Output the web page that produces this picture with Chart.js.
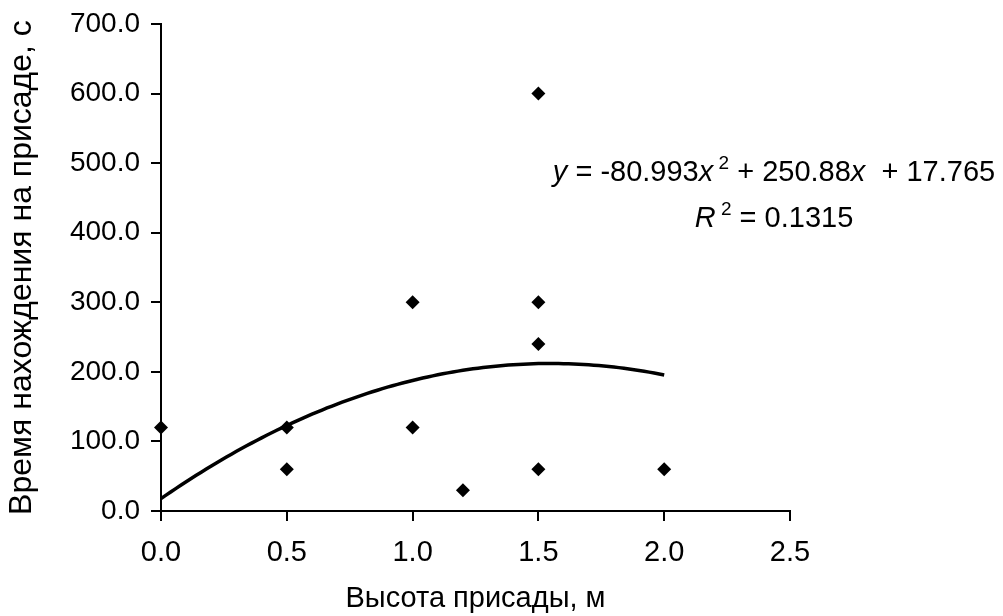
<!DOCTYPE html>
<html>
<head>
<meta charset="utf-8">
<title>Время нахождения на присаде</title>
<script src="https://cdn.jsdelivr.net/npm/chart.js@4.4.0/dist/chart.umd.min.js"></script>
<style>
    html, body { margin: 0; padding: 0; background: #fff; }
    #wrap { width: 1003px; height: 616px; }
</style>
</head>
<body>
<div id="wrap"><canvas id="myChart" width="1003" height="616"></canvas></div>
<script>
// наблюдения: высота присады (м) и время на присаде (с)
const heights = [0, 0.5, 0.5, 1.0, 1.0, 1.2, 1.5, 1.5, 1.5, 1.5, 2.0];
const times = [120, 120, 60, 300, 120, 30, 600, 300, 240, 60, 60];

// полиномиальный тренд 2-й степени: a*x^2 + b*x + c
const trendCoef = [-80.993, 250.88, 17.765];
const rSquared = 0.1315;
const trendRange = [0, 2.0];

const xTicks = [0, 0.5, 1.0, 1.5, 2.0, 2.5];
const yTicks = [0, 100, 200, 300, 400, 500, 600, 700];

const FONT = "'Liberation Sans', Arial, sans-serif";

function trendValue(x) {
    return trendCoef[0] * x * x + trendCoef[1] * x + trendCoef[2];
}

function generateChart() {
    const points = heights.map((h, i) => ({ x: h, y: times[i] }));

    const curve = [];
    for (let i = 0; i <= 100; i++) {
        const x = trendRange[0] + (trendRange[1] - trendRange[0]) * i / 100;
        curve.push({ x: x, y: trendValue(x) });
    }

    // подпись уравнения тренда и R^2
    const equationLabel = {
        id: 'equationLabel',
        afterDraw(chart) {
            const ctx = chart.ctx;
            const size = 29;
            const num = (v) => String(v);
            const lines = [
                { baseline: 181, parts: [
                    ['y', 'i'], [' = ' + num(trendCoef[0]), 'n'], ['x', 'i'], [' 2', 's'],
                    [' + ' + num(trendCoef[1]), 'n'], ['x', 'i'], ['  + ' + num(trendCoef[2]), 'n']
                ] },
                { baseline: 227, parts: [
                    ['R', 'i'], [' 2', 's'], [' = ' + num(rSquared), 'n']
                ] }
            ];
            const fontFor = (kind) => {
                if (kind === 'i') return 'italic ' + size + 'px ' + FONT;
                if (kind === 's') return Math.round(size * 0.66) + 'px ' + FONT;
                return size + 'px ' + FONT;
            };
            ctx.save();
            ctx.fillStyle = '#000';
            ctx.textBaseline = 'alphabetic';
            ctx.textAlign = 'left';
            lines.forEach(line => {
                let total = 0;
                line.parts.forEach(p => {
                    ctx.font = fontFor(p[1]);
                    total += ctx.measureText(p[0]).width;
                });
                let x = 774 - total / 2;
                line.parts.forEach(p => {
                    ctx.font = fontFor(p[1]);
                    const dy = p[1] === 's' ? -size * 0.42 : 0;
                    ctx.fillText(p[0], x, line.baseline + dy);
                    x += ctx.measureText(p[0]).width;
                });
            });
            ctx.restore();
        }
    };

    const ctx = document.getElementById('myChart').getContext('2d');

    new Chart(ctx, {
        type: 'scatter',
        data: {
            datasets: [{
                label: 'Тренд',
                data: curve,
                showLine: true,
                borderColor: '#000',
                borderWidth: 3.5,
                pointRadius: 0,
                fill: false
            }, {
                label: 'Время на присаде',
                data: points,
                clip: false,
                pointStyle: 'rectRot',
                pointRadius: 7,
                pointHoverRadius: 7,
                backgroundColor: '#000',
                borderColor: '#000',
                borderWidth: 0
            }]
        },
        options: {
            responsive: false,
            animation: false,
            devicePixelRatio: 1,
            layout: {
                padding: { left: 0, right: 213, top: 24, bottom: 0 }
            },
            plugins: {
                legend: { display: false },
                tooltip: { enabled: false }
            },
            scales: {
                x: {
                    type: 'linear',
                    min: xTicks[0],
                    max: xTicks[xTicks.length - 1],
                    afterBuildTicks: (scale) => { scale.ticks = xTicks.map(v => ({ value: v })); },
                    afterFit: (scale) => {
                        scale.height = 105;
                        scale.paddingLeft = 0;
                        scale.paddingRight = 0;
                    },
                    ticks: {
                        color: '#000',
                        font: { family: FONT, size: 29 },
                        padding: 15,
                        maxRotation: 0,
                        callback: (v) => Number(v).toFixed(1)
                    },
                    grid: {
                        drawOnChartArea: false,
                        drawTicks: true,
                        tickLength: 10,
                        color: '#000',
                        lineWidth: 2
                    },
                    border: { display: true, color: '#000', width: 2 },
                    title: {
                        display: true,
                        text: 'Высота присады, м',
                        color: '#000',
                        font: { family: FONT, size: 29, lineHeight: 1.2 },
                        padding: { top: 0, bottom: 0 }
                    }
                },
                y: {
                    type: 'linear',
                    min: yTicks[0],
                    max: yTicks[yTicks.length - 1],
                    afterBuildTicks: (scale) => { scale.ticks = yTicks.map(v => ({ value: v })); },
                    afterFit: (scale) => {
                        scale.width = 161;
                        scale.paddingTop = 0;
                        scale.paddingBottom = 0;
                    },
                    ticks: {
                        color: '#000',
                        font: { family: FONT, size: 28 },
                        padding: 11,
                        callback: (v) => Number(v).toFixed(1)
                    },
                    grid: {
                        drawOnChartArea: false,
                        drawTicks: true,
                        tickLength: 10,
                        color: '#000',
                        lineWidth: 2
                    },
                    border: { display: true, color: '#000', width: 2 },
                    title: {
                        display: true,
                        text: 'Время нахождения на присаде, с',
                        color: '#000',
                        font: { family: FONT, size: 32, lineHeight: 1.2 },
                        padding: { top: 3, bottom: 0 }
                    }
                }
            }
        },
        plugins: [equationLabel]
    });
}

generateChart();
</script>
</body>
</html>
